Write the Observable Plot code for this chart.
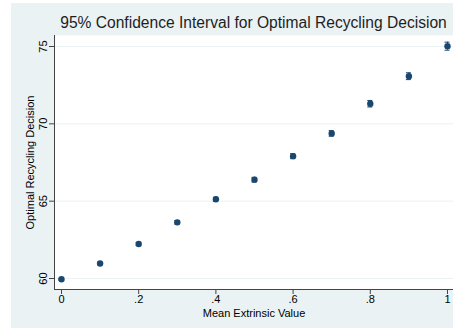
<!DOCTYPE html>
<html>
<head>
<meta charset="utf-8">
<script src="https://cdn.jsdelivr.net/npm/d3@7"></script>
<script src="https://cdn.jsdelivr.net/npm/@observablehq/plot@0.6"></script>
<style>
  html, body { margin: 0; padding: 0; background: #ffffff; }
  #wrap { position: relative; width: 453px; height: 334px; overflow: hidden; }
  #bg { position: absolute; left: 11px; top: 3px; width: 442px; height: 325px; background: #eaf2f3; }
  #title { position: absolute; left: 54px; width: 399px; top: 15px; line-height: 15px; font-size: 15.6px;
           font-family: "Liberation Sans", Arial, sans-serif; color: #1e1e1e; text-align: center; white-space: nowrap; }
  #chart { position: absolute; left: 0; top: 0; }
</style>
</head>
<body>
<div id="wrap">
  <div id="bg"></div>
  <div id="chart"></div>
  <div id="title">95% Confidence Interval for Optimal Recycling Decision</div>
</div>
<script>
const xValues = [0, 0.1, 0.2, 0.3, 0.4, 0.5, 0.6, 0.7, 0.8, 0.9, 1];
const means   = [59.95, 60.97, 62.23, 63.63, 65.12, 66.39, 67.91, 69.38, 71.30, 73.08, 75.02];
const lower   = [59.89, 60.89, 62.13, 63.52, 64.99, 66.24, 67.75, 69.20, 71.09, 72.86, 74.76];
const upper   = [60.01, 61.05, 62.33, 63.74, 65.25, 66.54, 68.07, 69.56, 71.51, 73.30, 75.28];
const xTicks = [0, 0.2, 0.4, 0.6, 0.8, 1];
const xTickLabels = ["0", ".2", ".4", ".6", ".8", "1"];
const yTicks = [60, 65, 70, 75];
const xTitle = "Mean Extrinsic Value";
const yTitle = "Optimal Recycling Decision";

const data = xValues.map((x, i) => ({x, mean: means[i], lo: lower[i], hi: upper[i]}));
const navy = "#1a476f";
const axisColor = "#444";

const chart = Plot.plot({
  width: 453,
  height: 334,
  marginLeft: 54,
  marginRight: 0,
  marginTop: 35,
  marginBottom: 45,
  insetTop: 11,
  insetBottom: 11,
  insetLeft: 7,
  insetRight: 6,
  style: {background: "transparent", fontFamily: "'Liberation Sans', Arial, sans-serif", fontSize: "11px", color: "#000"},
  x: {domain: [0, 1]},
  y: {domain: [60, 75]},
  marks: [
    Plot.frame({fill: "white", stroke: null}),
    Plot.gridY(yTicks, {stroke: "#eaf2f3", strokeOpacity: 1, strokeWidth: 1}),
    Plot.ruleX([0], {dx: -7, stroke: axisColor}),
    Plot.ruleY([60], {dy: 11, stroke: axisColor}),
    Plot.axisX({ticks: xTicks, tickFormat: (d) => xTickLabels[xTicks.indexOf(d)], tickSize: 5, tickPadding: 1, label: null, stroke: axisColor, fill: "#000"}),
    Plot.axisY({ticks: yTicks, tickSize: 5, tickRotate: -90, tickPadding: 3, label: null, stroke: axisColor, fill: "#000"}),
    Plot.text([xTitle], {frameAnchor: "bottom", dy: 27, fontSize: 11, fill: "#000"}),
    Plot.text([yTitle], {frameAnchor: "left", textAnchor: "middle", dx: -24, rotate: -90, fontSize: 11, fill: "#000"}),
    Plot.ruleX(data, {x: "x", y1: "lo", y2: "hi", stroke: navy, strokeWidth: 1}),
    Plot.ruleY(data, {y: "lo", x1: "x", x2: "x", insetLeft: -2.5, insetRight: -2.5, stroke: navy, strokeWidth: 1}),
    Plot.ruleY(data, {y: "hi", x1: "x", x2: "x", insetLeft: -2.5, insetRight: -2.5, stroke: navy, strokeWidth: 1}),
    Plot.dot(data, {x: "x", y: "mean", r: 3.2, fill: navy, stroke: null})
  ]
});
document.getElementById("chart").appendChild(chart);
</script>
</body>
</html>
